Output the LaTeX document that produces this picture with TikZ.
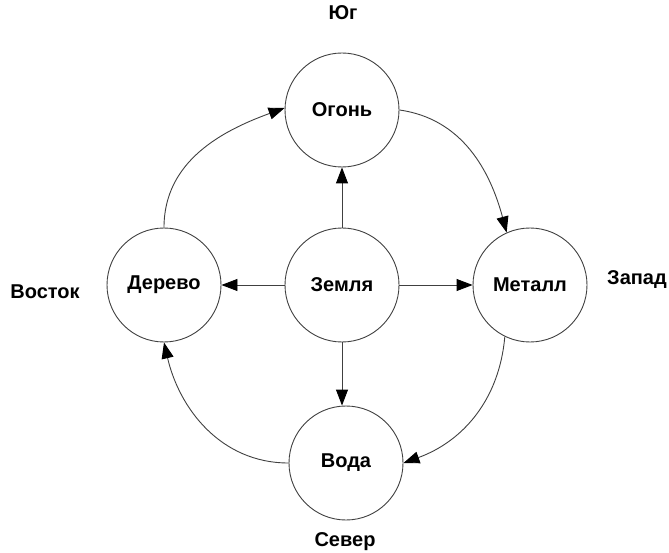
\documentclass[tikz,border=0pt]{standalone}
\usepackage{fontspec}
\setmainfont{Liberation Sans}
\usetikzlibrary{arrows.meta}

\tikzset{
	element/.style={draw=black!75, line width=0.9pt, circle, minimum size=114pt, inner sep=0pt, font=\fontsize{20}{22}\selectfont\bfseries},
	side/.style={font=\fontsize{20}{22}\selectfont\bfseries},
	link/.style={draw=black!75, line width=0.9pt, -{Triangle[length=16pt,width=12pt,color=black]}}
}

\begin{document}
\begin{tikzpicture}[x=1pt, y=-1pt]
			%%%%% START %%%%%
			
			\useasboundingbox (0, 0) rectangle (669, 553);
			
			\node[element] (fire) at (342, 110) {Огонь};
			\node[element] (wood) at (164, 285) {Дерево};
			\node[element] (earth) at (342, 285) {Земля};
			\node[element] (metal) at (530, 285) {Металл};
			\node[element] (water) at (346, 463) {Вода};
			
			\node[side] (south) at (343, 13) {Юг};
			\node[side] (east) at (45, 292) {Восток};
			\node[side] (west) at (637, 280) {Запад};
			\node[side] (north) at (345, 542) {Север};
			
			\draw[link] (earth.north) -- (fire.south);
			\draw[link] (earth.west) -- (wood.east);
			\draw[link] (earth.east) -- (metal.west);
			\draw[link] (earth.south) -- (earth.south |- water.north);
			
			\draw[link] (wood.90) to[out=90, in=200] (fire.178);
			\draw[link] (fire.0) to[out=-8, in=105] (metal.114);
			\draw[link] (metal.244) to[out=-95, in=20] (water.0);
			\draw[link] (water.180) to[out=180, in=-77] (wood.270);
			
			%%%%% END %%%%%
\end{tikzpicture}
\end{document}
